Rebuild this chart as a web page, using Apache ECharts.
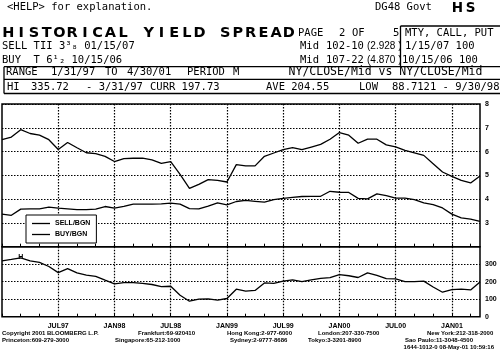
<!DOCTYPE html>
<html>
<head>
<meta charset="utf-8">
<script src="https://cdn.jsdelivr.net/npm/echarts@6/dist/echarts.min.js"></script>
<style>
  html, body { margin: 0; padding: 0; background: #fff; }
  #chart { width: 500px; height: 351px; }
</style>
</head>
<body>
<div id="chart"></div>
<script>
// month-end observations, 1/31/97 .. 4/30/01
const dates = [
  '1/31/97', '2/28/97', '3/31/97', '4/30/97', '5/31/97', '6/30/97', '7/31/97', '8/31/97', '9/30/97', '10/31/97', '11/30/97', '12/31/97',
  '1/31/98', '2/28/98', '3/31/98', '4/30/98', '5/31/98', '6/30/98', '7/31/98', '8/31/98', '9/30/98', '10/31/98', '11/30/98', '12/31/98',
  '1/31/99', '2/28/99', '3/31/99', '4/30/99', '5/31/99', '6/30/99', '7/31/99', '8/31/99', '9/30/99', '10/31/99', '11/30/99', '12/31/99',
  '1/31/00', '2/29/00', '3/31/00', '4/30/00', '5/31/00', '6/30/00', '7/31/00', '8/31/00', '9/30/00', '10/31/00', '11/30/00', '12/31/00',
  '1/31/01', '2/28/01', '3/31/01', '4/30/01'
];

// BUY T 6 1/2 10/15/06 yield (upper line)
const buyYields = [
  6.50, 6.61, 6.92, 6.76, 6.69, 6.50, 6.09, 6.38, 6.16, 5.95, 5.91, 5.80,
  5.58, 5.70, 5.72, 5.72, 5.65, 5.50, 5.58, 5.04, 4.45, 4.62, 4.82, 4.79,
  4.72, 5.45, 5.40, 5.40, 5.80, 5.94, 6.08, 6.17, 6.08, 6.19, 6.30, 6.52,
  6.80, 6.69, 6.35, 6.52, 6.52, 6.28, 6.20, 6.05, 5.95, 5.84, 5.49, 5.14,
  4.96, 4.79, 4.68, 4.97
];

// SELL TII 3 3/8 01/15/07 yield (lower line)
const sellYields = [
  3.37, 3.32, 3.58, 3.59, 3.59, 3.66, 3.62, 3.59, 3.56, 3.56, 3.58, 3.69,
  3.62, 3.70, 3.79, 3.79, 3.79, 3.80, 3.83, 3.79, 3.60, 3.59, 3.71, 3.84,
  3.76, 3.90, 3.95, 3.91, 3.87, 3.98, 4.03, 4.07, 4.11, 4.12, 4.12, 4.33,
  4.29, 4.28, 4.03, 4.01, 4.22, 4.15, 4.04, 4.04, 3.98, 3.84, 3.77, 3.63,
  3.37, 3.21, 3.16, 3.06
];

// spread in bp (bottom panel)
const spread = [
  319, 327, 335.72, 319, 310, 287, 252, 275, 250, 237, 231, 209,
  188, 195, 195, 191, 184, 172, 174, 123, 88.71, 100, 102, 95,
  104, 157, 146, 150, 193, 190, 203, 210, 200, 210, 219, 223,
  241, 234, 224, 250, 236, 218, 216, 200, 200, 203, 170, 140,
  155, 158, 153, 197.73
];

const tickLabels = ['JUL97', 'JAN98', 'JUL98', 'JAN99', 'JUL99', 'JAN00', 'JUL00', 'JAN01'];

const mono = 'DejaVu Sans Mono';
const sans = 'Liberation Sans';

const myChart = echarts.init(document.getElementById('chart'));

function txt(x, y, text, size = 10.5, family = mono, weight = 'normal', align = 'left') {
  return {
    type: 'text', x: x, y: y, silent: true,
    style: {
      text: text, fill: '#000',
      font: weight + ' ' + size + 'px "' + family + '"',
      textAlign: align, align: align,
      textVerticalAlign: 'middle', verticalAlign: 'middle'
    }
  };
}

function boxLine(x1, y1, x2, y2) {
  return { type: 'line', silent: true, shape: { x1, y1, x2, y2 }, style: { stroke: '#000', lineWidth: 1.3 } };
}

// wide fixed-pitch lettering like the terminal title font
function spaced(s) {
  return s.split('').map(c => '{c|' + c + '}').join('');
}

const dots = { color: '#000', width: 1.2, type: [1.5, 1.5] };
const isGridMonth = (i) => i % 6 === 0 && i > 0 && i < dates.length - 1;

const axisFont = { fontSize: 7, fontWeight: 'bold', fontFamily: sans, color: '#000' };

let option = {
  animation: false,
  backgroundColor: '#fff',
  title: [
    {
      text: spaced('HISTORICAL YIELD SPREAD'), left: 2, top: 25.5, padding: 0,
      textStyle: { rich: { c: { width: 12.75, align: 'center', fontSize: 14.5, fontWeight: 'bold', fontFamily: 'DejaVu Sans', color: '#000' } } }
    },
    {
      text: spaced('HS'), left: 451, top: 1, padding: 0,
      textStyle: { rich: { c: { width: 13, align: 'center', fontSize: 13.5, fontWeight: 'bold', fontFamily: 'DejaVu Sans', color: '#000' } } }
    }
  ],
  legend: {
    data: ['SELL/BGN', 'BUY/BGN'],
    orient: 'vertical',
    left: 26, top: 215,
    icon: 'rect',
    itemWidth: 18, itemHeight: 1.3, itemGap: 4,
    padding: [5, 6, 5, 6],
    borderColor: '#000', borderWidth: 1,
    backgroundColor: '#fff',
    selectedMode: false,
    textStyle: { fontSize: 7, fontWeight: 'bold', fontFamily: sans, color: '#000' }
  },
  grid: [
    { left: 2, right: 20, top: 104, height: 142.7, show: true, borderColor: '#000', borderWidth: 1.5 },
    { left: 2, right: 20, top: 246.7, height: 70, show: true, borderColor: '#000', borderWidth: 1.5 }
  ],
  xAxis: [
    {
      type: 'category', gridIndex: 0, data: dates, boundaryGap: false,
      axisLine: { show: false },
      axisTick: { show: true, inside: true, length: 3, interval: (i) => i % 2 === 0, lineStyle: { color: '#000' } },
      axisLabel: { show: false },
      splitLine: { show: true, interval: isGridMonth, lineStyle: dots }
    },
    {
      type: 'category', gridIndex: 1, data: dates, boundaryGap: false,
      axisLine: { show: false },
      axisTick: { show: true, inside: true, length: 3, interval: (i) => i % 2 === 0, lineStyle: { color: '#000' } },
      axisLabel: Object.assign({ show: true, margin: 6, interval: isGridMonth, formatter: (v, i) => tickLabels[i / 6 - 1] || '' }, axisFont),
      splitLine: { show: true, interval: isGridMonth, lineStyle: dots }
    }
  ],
  yAxis: [
    {
      type: 'value', gridIndex: 0, position: 'right', min: 2, max: 8, interval: 1,
      axisLine: { show: false }, axisTick: { show: false },
      axisLabel: Object.assign({ margin: 5, formatter: (v) => v === 2 ? '' : String(v) }, axisFont),
      splitLine: { show: true, lineStyle: dots }
    },
    {
      type: 'value', gridIndex: 1, position: 'right', min: 0, max: 400, interval: 100,
      axisLine: { show: false }, axisTick: { show: false },
      axisLabel: Object.assign({ margin: 5, formatter: (v) => v === 400 ? '' : String(v) }, axisFont),
      splitLine: { show: true, lineStyle: dots }
    }
  ],
  series: [
    {
      name: 'SELL/BGN', type: 'line', xAxisIndex: 0, yAxisIndex: 0, data: sellYields,
      showSymbol: false, color: '#000', lineStyle: { color: '#000', width: 1.3 }
    },
    {
      name: 'BUY/BGN', type: 'line', xAxisIndex: 0, yAxisIndex: 0, data: buyYields,
      showSymbol: false, color: '#000', lineStyle: { color: '#000', width: 1.3 }
    },
    {
      name: 'Spread', type: 'line', xAxisIndex: 1, yAxisIndex: 1, data: spread,
      showSymbol: false, color: '#000', lineStyle: { color: '#000', width: 1.3 },
      markPoint: {
        symbol: 'circle', symbolSize: 1,
        itemStyle: { color: 'rgba(0,0,0,0)' },
        label: { show: true, position: 'inside', offset: [0, -1], formatter: 'H', fontSize: 7, fontWeight: 'bold', fontFamily: sans, color: '#000' },
        data: [{ coord: [dates[2], 335.72] }]
      }
    }
  ],
  graphic: [
    // header
    txt(7, 7.5, '<HELP> for explanation.'),
    txt(375, 7.5, 'DG48 Govt'),
    txt(298, 33, 'PAGE'),
    txt(339, 33, '2'),
    txt(352, 33, 'OF'),
    txt(393, 33, '5'),
    txt(405, 33, 'MTY, CALL, PUT'),
    txt(2, 46, 'SELL TII 3\u00b3\u2088 01/15/07'),
    txt(300, 46, 'Mid'),
    txt(326, 46, '102-10'),
    txt(367, 46, '(2.928 )', 10, sans),
    txt(405, 46, '1/15/07 100'),
    txt(2, 60.5, 'BUY  T 6\u00b9\u2082 10/15/06'),
    txt(300, 60.5, 'Mid'),
    txt(326, 60.5, '107-22'),
    txt(367, 60.5, '(4.870 )', 10, sans),
    txt(402, 60.5, '10/15/06 100'),
    boxLine(400.5, 26, 500, 26),
    boxLine(400.5, 26, 400.5, 66.7),
    // range box
    boxLine(4, 66.7, 500, 66.7),
    boxLine(4, 79.3, 500, 79.3),
    boxLine(4, 93.5, 500, 93.5),
    boxLine(4, 66.7, 4, 93.5),
    txt(6, 72.5, 'RANGE'),
    txt(51, 72.5, '1/31/97'),
    txt(105, 72.5, 'TO'),
    txt(127, 72.5, '4/30/01'),
    txt(187, 72.5, 'PERIOD'),
    txt(233, 72.5, 'M'),
    txt(385.5, 72.5, 'NY/CLOSE/Mid vs NY/CLOSE/Mid', 11.5, mono, 'normal', 'center'),
    txt(7, 87, 'HI'),
    txt(31, 87, '335.72'),
    txt(86, 87, '- 3/31/97'),
    txt(150, 87, 'CURR 197.73'),
    txt(266, 87, 'AVE 204.55'),
    txt(359, 87, 'LOW'),
    txt(392, 87, '88.7121 - 9/30/98'),
    // footer
    txt(2, 333, 'Copyright 2001 BLOOMBERG L.P.', 6, sans, 'bold'),
    txt(138, 333, 'Frankfurt:69-920410', 6, sans, 'bold'),
    txt(227, 333, 'Hong Kong:2-977-6000', 6, sans, 'bold'),
    txt(318, 333, 'London:207-330-7500', 6, sans, 'bold'),
    txt(427, 333, 'New York:212-318-2000', 6, sans, 'bold'),
    txt(2, 340, 'Princeton:609-279-3000', 6, sans, 'bold'),
    txt(115, 340, 'Singapore:65-212-1000', 6, sans, 'bold'),
    txt(230, 340, 'Sydney:2-9777-8686', 6, sans, 'bold'),
    txt(308, 340, 'Tokyo:3-3201-8900', 6, sans, 'bold'),
    txt(405, 340, 'Sao Paulo:11-3048-4500', 6, sans, 'bold'),
    txt(494, 347.5, '1644-1012-0 08-May-01 10:59:16', 6, sans, 'bold', 'right')
  ]
};

option && myChart.setOption(option);
</script>
</body>
</html>
